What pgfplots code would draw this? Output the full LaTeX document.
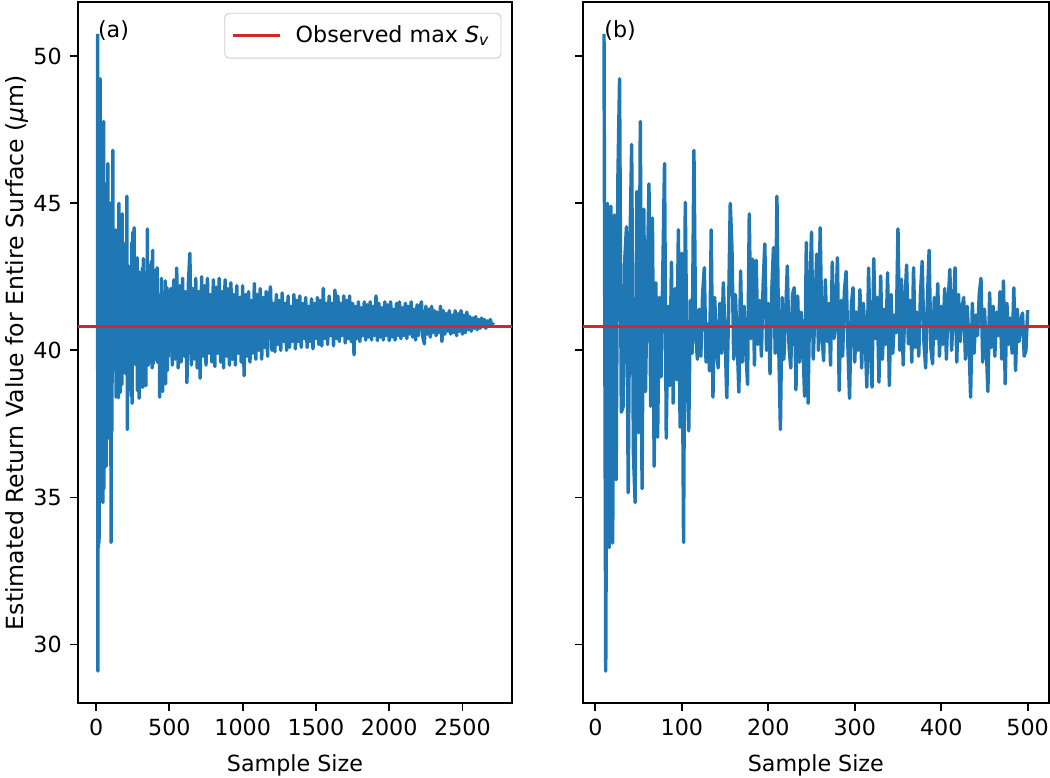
\documentclass[border=0pt]{standalone}
\usepackage{fontspec}
\setmainfont{DejaVu Sans}
\usepackage{pgfplots}
\usepackage{pgfplotstable}
\pgfplotsset{compat=1.18}
\definecolor{mplblue}{HTML}{1F77B4}
\definecolor{mplred}{HTML}{D62728}

% sample sizes 10..500 (shown in both panels)
\pgfplotstableread[row sep=\\]{
x y\\
10 50.76\\ 12 29.10\\ 14 45.00\\ 16 33.30\\ 18 44.90\\ 20 33.45\\ 22 44.60\\ 24 35.60\\ 26 45.75\\ 28 49.23\\
30 37.90\\ 32 38.07\\ 34 43.10\\ 36 44.20\\ 38 35.16\\ 40 43.50\\ 42 47.00\\ 44 36.50\\ 46 34.83\\ 48 45.40\\
50 37.20\\ 52 47.78\\ 54 35.30\\ 56 44.80\\ 58 38.60\\ 60 42.40\\ 62 45.66\\ 64 38.10\\ 66 44.50\\ 68 36.06\\
70 42.30\\ 72 37.05\\ 74 41.80\\ 76 39.10\\ 78 42.70\\ 80 46.35\\ 82 37.02\\ 84 41.50\\ 86 38.80\\ 88 43.00\\
90 38.20\\ 92 42.10\\ 94 39.00\\ 96 44.10\\ 98 37.39\\ 100 43.30\\ 102 33.47\\ 104 45.03\\ 106 39.40\\ 108 37.26\\
110 41.70\\ 112 39.90\\ 114 46.80\\ 116 40.60\\ 118 39.70\\ 120 41.40\\ 122 39.80\\ 124 41.90\\ 126 42.81\\ 128 39.60\\
130 40.90\\ 132 39.30\\ 134 44.10\\ 136 38.41\\ 138 41.80\\ 140 40.20\\ 142 39.40\\ 144 41.60\\ 146 39.90\\ 148 42.30\\
150 40.50\\ 152 38.39\\ 154 41.20\\ 156 45.00\\ 158 43.47\\ 160 39.70\\ 162 41.90\\ 164 40.30\\ 166 38.58\\ 168 42.70\\
170 39.60\\ 172 41.50\\ 174 40.10\\ 176 38.84\\ 178 44.64\\ 180 40.40\\ 182 43.10\\ 184 39.50\\ 186 43.06\\ 188 40.20\\
190 41.70\\ 192 39.80\\ 194 42.20\\ 196 43.62\\ 198 40.00\\ 200 41.60\\ 202 39.20\\ 204 42.00\\ 206 43.49\\ 208 39.90\\
210 45.24\\ 212 40.30\\ 214 37.31\\ 216 41.80\\ 218 39.70\\ 220 41.20\\ 222 42.87\\ 224 40.10\\ 226 39.40\\ 228 41.90\\
230 42.13\\ 232 38.66\\ 234 41.85\\ 236 39.60\\ 238 41.30\\ 240 40.20\\ 242 38.44\\ 244 43.67\\ 246 38.20\\ 248 41.90\\
250 44.02\\ 252 39.70\\ 254 41.40\\ 256 43.27\\ 258 40.00\\ 260 44.17\\ 262 40.60\\ 264 39.65\\ 266 42.40\\ 268 40.30\\
270 41.60\\ 272 39.50\\ 274 43.00\\ 276 40.40\\ 278 41.20\\ 280 43.15\\ 282 38.63\\ 284 41.70\\ 286 39.80\\ 288 42.00\\
290 42.68\\ 292 40.20\\ 294 38.37\\ 296 41.50\\ 298 42.13\\ 300 39.60\\ 302 41.30\\ 304 40.00\\ 306 42.06\\ 308 39.40\\
310 41.60\\ 312 40.50\\ 314 38.75\\ 316 42.80\\ 318 40.10\\ 320 38.75\\ 322 43.12\\ 324 40.40\\ 326 41.80\\ 328 38.92\\
330 42.53\\ 332 39.70\\ 334 41.40\\ 336 40.20\\ 338 42.64\\ 340 38.80\\ 342 41.90\\ 344 39.90\\ 346 41.20\\ 348 40.60\\
350 44.13\\ 352 40.00\\ 354 42.42\\ 356 39.50\\ 358 41.60\\ 360 42.90\\ 362 40.22\\ 364 41.70\\ 366 39.60\\ 368 42.81\\
370 40.10\\ 372 41.30\\ 374 39.80\\ 376 41.90\\ 378 43.03\\ 380 40.30\\ 382 39.40\\ 384 41.70\\ 386 43.40\\ 388 40.10\\
390 39.54\\ 392 41.80\\ 394 40.40\\ 396 42.27\\ 398 39.80\\ 400 41.50\\ 402 40.20\\ 404 42.10\\ 406 39.70\\ 408 41.60\\
410 42.75\\ 412 40.00\\ 414 41.30\\ 416 42.81\\ 418 39.60\\ 420 41.90\\ 422 40.30\\ 424 41.40\\ 426 41.80\\ 428 39.70\\
430 41.50\\ 432 40.40\\ 434 38.41\\ 436 41.60\\ 438 39.90\\ 440 41.20\\ 442 40.50\\ 444 41.90\\ 446 42.45\\ 448 39.60\\
450 41.40\\ 452 40.20\\ 454 38.60\\ 456 41.96\\ 458 40.10\\ 460 41.50\\ 462 39.80\\ 464 41.30\\ 466 40.50\\ 468 42.00\\
470 39.70\\ 472 42.36\\ 474 38.86\\ 476 41.60\\ 478 40.20\\ 480 41.10\\ 482 39.90\\ 484 42.13\\ 486 39.31\\ 488 41.40\\
490 40.30\\ 492 41.00\\ 494 41.27\\ 496 39.80\\ 498 40.00\\ 500 41.37\\
}\firstpart

% sample sizes 500..2710 (left panel only)
\pgfplotstableread[row sep=\\]{
x y\\
500 41.37\\ 510 42.10\\ 520 39.50\\ 530 42.40\\ 540 39.70\\ 550 42.80\\ 560 39.40\\ 570 42.20\\ 580 39.60\\ 590 42.45\\
600 39.80\\ 610 42.00\\ 620 38.90\\ 630 42.30\\ 640 43.30\\ 650 39.50\\ 660 42.10\\ 670 39.70\\ 680 42.45\\ 690 39.40\\
700 42.00\\ 710 39.05\\ 720 42.50\\ 730 39.80\\ 740 42.20\\ 750 39.50\\ 760 42.45\\ 770 39.90\\ 780 41.90\\ 790 39.60\\
800 42.40\\ 810 39.45\\ 820 42.15\\ 830 39.90\\ 840 42.45\\ 850 39.60\\ 860 42.00\\ 870 39.40\\ 880 42.40\\ 890 39.80\\
900 42.10\\ 910 39.50\\ 920 42.30\\ 930 39.70\\ 940 41.90\\ 950 39.50\\ 960 42.20\\ 970 39.90\\ 980 41.80\\ 990 39.60\\
1000 42.20\\ 1010 39.14\\ 1020 41.90\\ 1030 39.80\\ 1040 42.00\\ 1050 39.60\\ 1060 41.70\\ 1070 39.90\\ 1080 42.27\\ 1090 39.70\\
1100 41.90\\ 1110 40.00\\ 1120 42.10\\ 1130 39.70\\ 1140 41.80\\ 1150 40.10\\ 1160 42.00\\ 1170 39.80\\ 1180 41.70\\ 1190 42.16\\
1200 40.00\\ 1210 41.60\\ 1220 39.95\\ 1230 41.90\\ 1240 40.20\\ 1250 41.70\\ 1260 40.00\\ 1270 41.95\\ 1280 40.30\\ 1290 41.60\\
1300 40.00\\ 1310 41.85\\ 1320 40.10\\ 1330 41.50\\ 1340 40.30\\ 1350 41.90\\ 1360 40.05\\ 1370 41.70\\ 1380 40.30\\ 1390 41.85\\
1400 40.10\\ 1410 41.60\\ 1420 40.40\\ 1430 41.80\\ 1440 40.10\\ 1450 41.50\\ 1460 40.30\\ 1470 41.75\\ 1480 40.05\\ 1490 41.60\\
1500 40.40\\ 1510 41.80\\ 1520 40.20\\ 1530 41.70\\ 1540 40.15\\ 1550 42.11\\ 1560 40.40\\ 1570 41.60\\ 1580 40.20\\ 1590 41.85\\
1600 40.50\\ 1610 41.60\\ 1620 40.15\\ 1630 42.05\\ 1640 40.40\\ 1650 41.85\\ 1660 40.30\\ 1670 41.60\\ 1680 40.50\\ 1690 41.85\\
1700 40.25\\ 1710 41.70\\ 1720 40.40\\ 1730 41.85\\ 1740 40.30\\ 1750 41.60\\ 1760 39.85\\ 1770 41.50\\ 1780 40.40\\ 1790 41.65\\
1800 40.30\\ 1810 41.45\\ 1820 40.50\\ 1830 41.65\\ 1840 40.35\\ 1850 41.55\\ 1860 40.45\\ 1870 41.65\\ 1880 40.35\\ 1890 41.50\\
1900 40.50\\ 1910 41.85\\ 1920 40.33\\ 1930 41.60\\ 1940 40.45\\ 1950 41.45\\ 1960 40.35\\ 1970 41.65\\ 1980 40.50\\ 1990 41.55\\
2000 40.33\\ 2010 41.65\\ 2020 40.45\\ 2030 41.40\\ 2040 40.35\\ 2050 41.60\\ 2060 40.50\\ 2070 41.65\\ 2080 40.40\\ 2090 41.45\\
2100 40.50\\ 2110 41.60\\ 2120 40.40\\ 2130 41.50\\ 2140 40.55\\ 2150 41.65\\ 2160 40.45\\ 2170 41.40\\ 2180 40.35\\ 2190 41.55\\
2200 40.50\\ 2210 41.45\\ 2220 41.65\\ 2230 40.45\\ 2240 40.22\\ 2250 41.50\\ 2260 40.55\\ 2270 41.40\\ 2280 40.45\\ 2290 41.50\\
2300 40.60\\ 2310 41.35\\ 2320 40.50\\ 2330 41.30\\ 2340 40.60\\ 2350 41.50\\ 2360 40.30\\ 2370 41.35\\ 2380 40.55\\ 2390 41.25\\
2400 40.65\\ 2410 41.35\\ 2420 40.55\\ 2430 41.20\\ 2440 40.60\\ 2450 41.35\\ 2460 40.50\\ 2470 41.25\\ 2480 40.65\\ 2490 41.35\\
2500 40.55\\ 2510 41.20\\ 2520 40.60\\ 2530 41.30\\ 2540 40.70\\ 2550 41.15\\ 2560 40.65\\ 2570 41.10\\ 2580 40.75\\ 2590 41.15\\
2600 40.70\\ 2610 41.05\\ 2620 40.75\\ 2630 41.10\\ 2640 40.80\\ 2650 41.05\\ 2660 40.75\\ 2670 41.00\\ 2680 40.85\\ 2690 41.05\\
2700 40.85\\ 2710 40.95\\
}\secondpart

\pgfplotsset{
  mystyle/.style={
    scale only axis,
    height=306pt,
    ymin=28.02, ymax=51.84,
    ytick={30,35,40,45,50},
    tick align=outside,
    major tick length=3.5pt,
    tick style={black, line width=0.8pt},
    axis line style={line width=0.8pt},
    xtick pos=bottom, ytick pos=left,
    /pgf/number format/assume math mode=true,
    /pgf/number format/1000 sep={},
    xlabel style={at={(axis description cs:0.5,0)}, anchor=base, yshift=-29.8pt},
    clip=true,
  },
  blueline/.style={mplblue, line width=1.5pt, line join=round, no marks},
  redline/.style={mplred, line width=1.5pt, no marks},
}

\begin{document}
\fontsize{9.7}{11.6}\selectfont
\begin{tikzpicture}
\useasboundingbox (0,0) rectangle (458.5pt,339.7pt);

\begin{axis}[mystyle,
  at={(33.9pt,32.8pt)}, anchor=south west,
  width=189.8pt,
  xmin=-126, xmax=2840,
  xtick={0,500,1000,1500,2000,2500},
  xlabel={Sample Size},
  ylabel={Estimated Return Value for Entire Surface ({\itshape μ}m)},
  ylabel style={at={(axis description cs:-0.1396,0.5)}, anchor=center,
    font=\fontsize{10.3}{12.4}\selectfont},
  legend style={at={(0.974,0.984)}, anchor=north east, draw=black!20, rounded corners=2pt,
    fill=white, fill opacity=0.8, text opacity=1, inner xsep=3pt, inner ysep=3.4pt,
    outer sep=0pt, font=\fontsize{9.7}{11.6}\selectfont},
  legend cell align=left,
  legend image code/.code={\draw[#1] (0pt,0pt) -- (20.6pt,0pt); \path (24.5pt,0pt);},
]
\addplot[blueline, forget plot] table[x=x, y=y]{\firstpart};
\addplot[blueline, forget plot] table[x=x, y=y]{\secondpart};
\addplot[redline] coordinates {(-126,40.81) (2840,40.81)};
\addlegendentry{Observed max {\itshape S}\textsubscript{\itshape v}}
\node[anchor=base west, inner sep=0pt] at (axis cs:10,50.64) {(a)};
\end{axis}

\begin{axis}[mystyle,
  at={(254.5pt,32.8pt)}, anchor=south west,
  width=203.5pt,
  xmin=-14.5, xmax=524.5,
  xtick={0,100,200,300,400,500},
  yticklabels={},
  xlabel={Sample Size},
]
\addplot[blueline] table[x=x, y=y]{\firstpart};
\addplot[redline] coordinates {(-14.5,40.81) (524.5,40.81)};
\node[anchor=base west, inner sep=0pt] at (axis cs:10,50.64) {(b)};
\end{axis}
\end{tikzpicture}
\end{document}
